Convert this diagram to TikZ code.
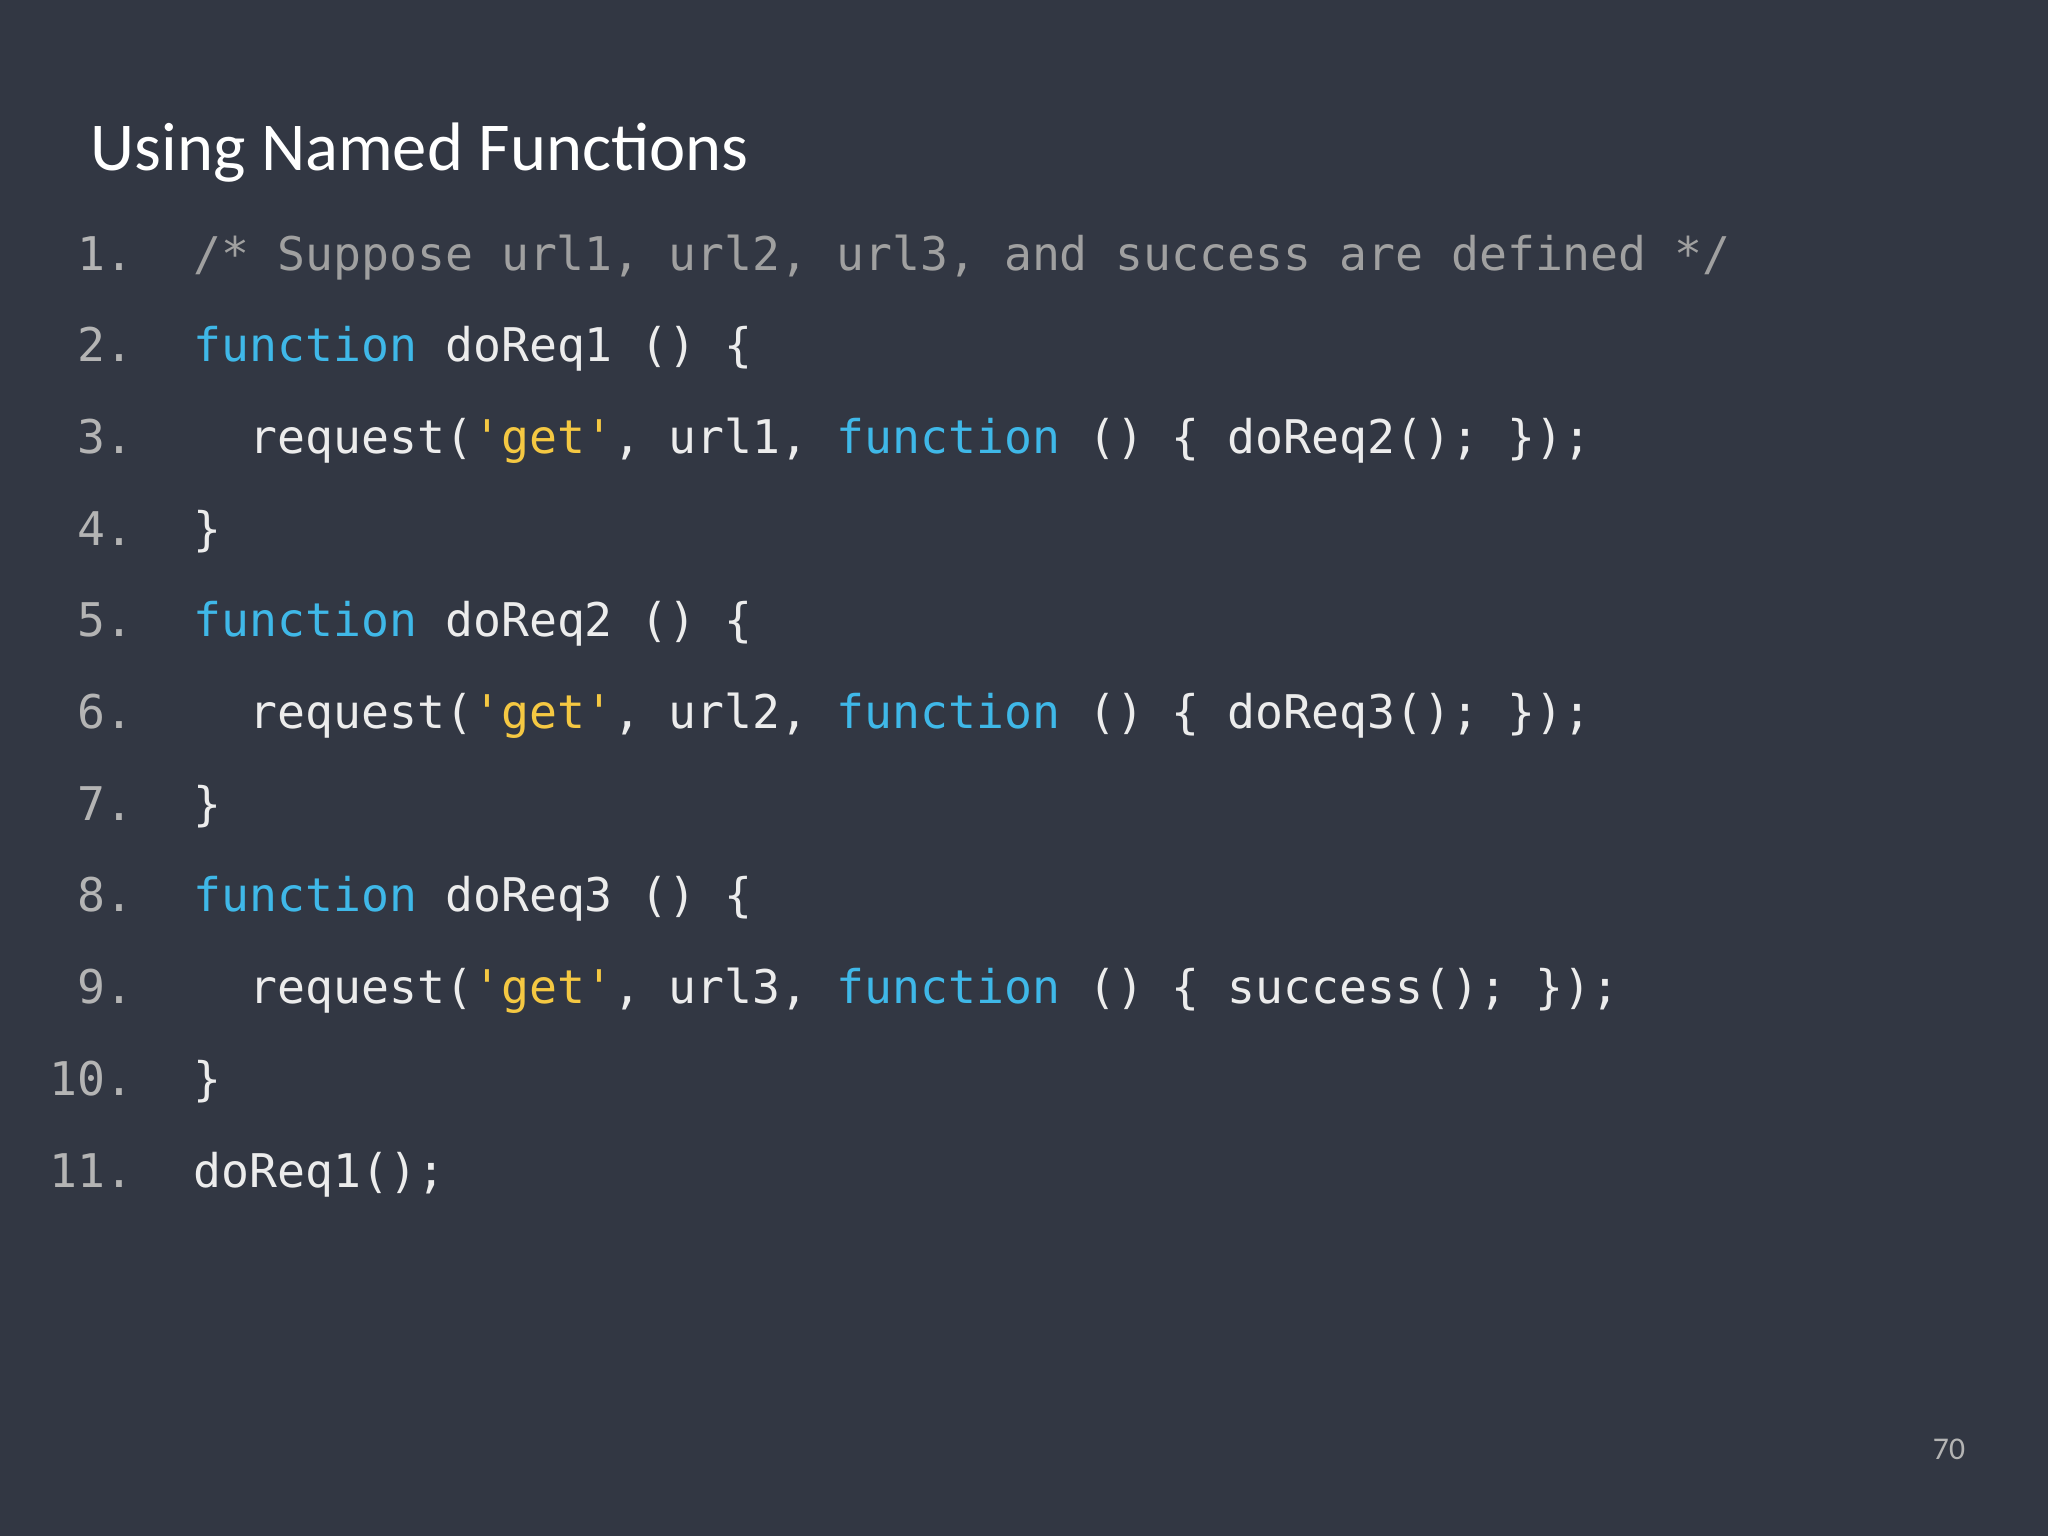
\documentclass[tikz,border=0pt]{standalone}
\usepackage{fontspec}
\setmainfont{Carlito}
\setmonofont{DejaVu Sans Mono}
\definecolor{bg}{HTML}{323743}
\definecolor{cm}{HTML}{A0A0A0}
\definecolor{kw}{HTML}{3FB8E8}
\definecolor{st}{HTML}{F5C842}
\definecolor{tx}{HTML}{ECECEC}
\definecolor{ln}{HTML}{B4B4B4}
\newcommand{\kw}[1]{\textcolor{kw}{#1}}
\newcommand{\str}[1]{\textcolor{st}{#1}}
\begin{document}
\begin{tikzpicture}[x=0.01cm,y=-0.01cm,
  code/.style={anchor=base west,inner sep=0,text=tx,font=\ttfamily\fontsize{13.2}{15}\selectfont},
  num/.style={anchor=base east,inner sep=0,text=ln,font=\ttfamily\fontsize{13.2}{15}\selectfont}]
\fill[bg] (0,0) rectangle (2048,1536);
\node[anchor=base west,inner sep=0,text=white,font=\fontsize{19.5}{22}\selectfont] (title) at (90,170) {Using Named Functions};
\foreach \i in {1,...,11} {
  \node[num] (n\i) at (134,{270+(\i-1)*91.7}) {\i.};
}
\node[code,text=cm] (l1) at (193,270) {/* Suppose url1, url2, url3, and success are defined */};
\node[code] (l2) at (193,361.7) {\kw{function} doReq1 () \{};
\node[code] (l3) at (249,453.4) {request(\str{'get'}, url1, \kw{function} () \{ doReq2(); \});};
\node[code] (l4) at (193,545.1) {\}};
\node[code] (l5) at (193,636.8) {\kw{function} doReq2 () \{};
\node[code] (l6) at (249,728.5) {request(\str{'get'}, url2, \kw{function} () \{ doReq3(); \});};
\node[code] (l7) at (193,820.2) {\}};
\node[code] (l8) at (193,911.9) {\kw{function} doReq3 () \{};
\node[code] (l9) at (249,1003.6) {request(\str{'get'}, url3, \kw{function} () \{ success(); \});};
\node[code] (l10) at (193,1095.3) {\}};
\node[code] (l11) at (193,1187) {doReq1();};
\node[anchor=base,inner sep=0,text=ln,font=\fontsize{9}{11}\selectfont] (pg) at (1949,1459) {70};
\end{tikzpicture}
\end{document}
